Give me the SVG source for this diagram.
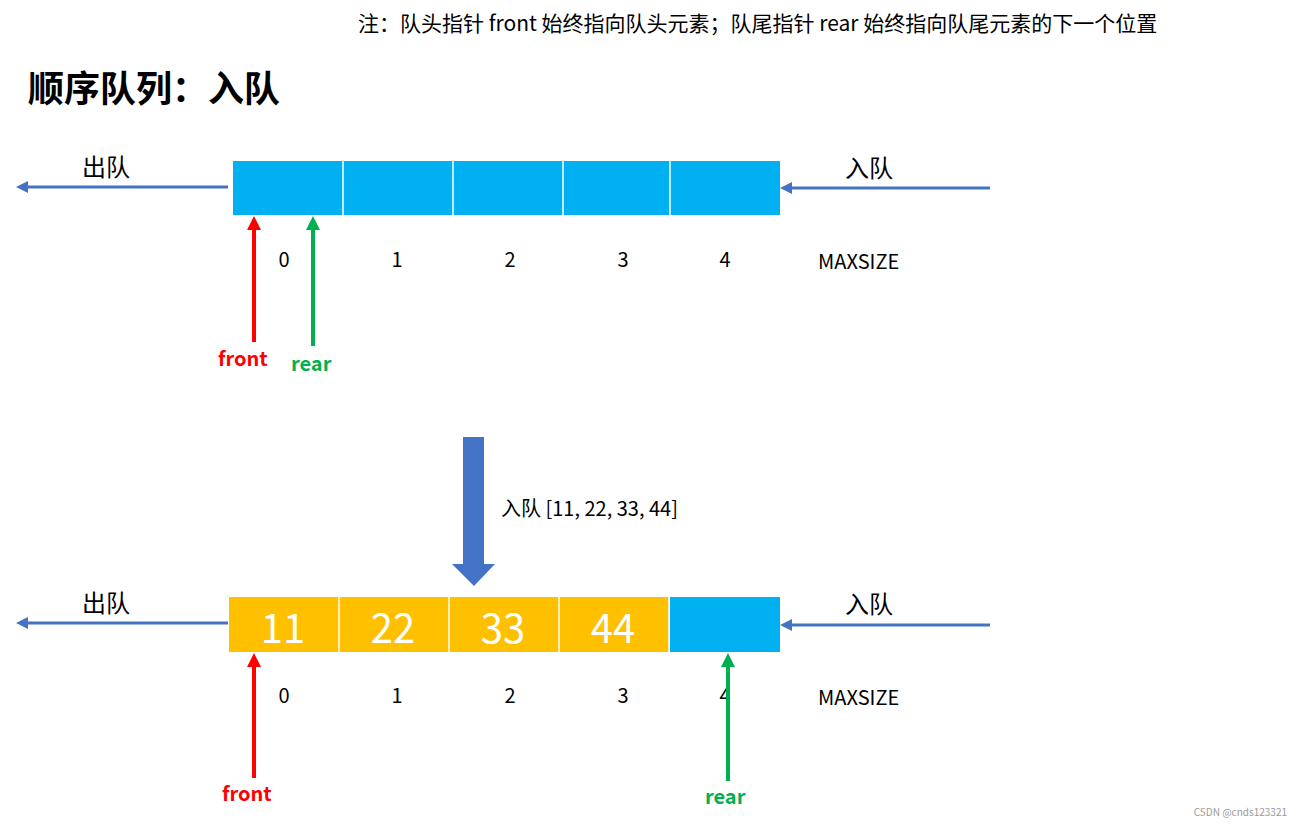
<svg xmlns="http://www.w3.org/2000/svg" width="1302" height="825" viewBox="0 0 1302 825">
<defs>
<style>
text{font-family:"Microsoft YaHei","Noto Sans CJK SC","Liberation Sans",sans-serif;fill:#000}
.cb{fill:#00b0f0}.cy{fill:#ffc000}
.sep{stroke:#fff;stroke-width:1.5}
.idx{font-size:20px;text-anchor:middle}
.lab{font-size:24px}
.num{font-size:40px;fill:#fff;text-anchor:middle}
.blue{stroke:#4472c4;stroke-width:3;fill:none}
.red{stroke:#ff0000;stroke-width:4;fill:none}
.green{stroke:#00b050;stroke-width:4;fill:none}
</style>
<marker id="ab" markerWidth="4" markerHeight="4" refX="2" refY="2" orient="auto"><path d="M0,0L4,2L0,4Z" fill="#4472c4"/></marker>
<marker id="ar" markerWidth="3.5" markerHeight="3.5" refX="2" refY="1.75" orient="auto"><path d="M0,0L3.5,1.75L0,3.5Z" fill="#ff0000"/></marker>
<marker id="ag" markerWidth="3.5" markerHeight="3.5" refX="2" refY="1.75" orient="auto"><path d="M0,0L3.5,1.75L0,3.5Z" fill="#00b050"/></marker>
</defs>
<rect width="1302" height="825" fill="#fff"/>
<text x="358" y="31" font-size="21">注：队头指针 front 始终指向队头元素；队尾指针 rear 始终指向队尾元素的下一个位置</text>
<text x="28" y="102" font-size="36" font-weight="bold">顺序队列：入队</text>
<g id="queue1">
<rect class="cb" x="233" y="161" width="547" height="54"/>
<line class="sep" x1="343" y1="161" x2="343" y2="215"/><line class="sep" x1="453" y1="161" x2="453" y2="215"/><line class="sep" x1="563" y1="161" x2="563" y2="215"/><line class="sep" x1="670" y1="161" x2="670" y2="215"/>
</g>
<g id="index1">
<text class="idx" x="284" y="267">0</text><text class="idx" x="397" y="267">1</text><text class="idx" x="510" y="267">2</text><text class="idx" x="623" y="267">3</text><text class="idx" x="725" y="267">4</text>
<text x="818" y="269" font-size="20">MAXSIZE</text>
</g>
<g id="queue2">
<rect class="cy" x="229" y="597" width="440" height="55"/>
<rect class="cb" x="670" y="597" width="110" height="55"/>
<line class="sep" x1="339" y1="597" x2="339" y2="652"/><line class="sep" x1="449" y1="597" x2="449" y2="652"/><line class="sep" x1="559" y1="597" x2="559" y2="652"/><line class="sep" x1="669" y1="597" x2="669" y2="652"/>
<text class="num" x="283" y="643">11</text><text class="num" x="393" y="643">22</text><text class="num" x="503" y="643">33</text><text class="num" x="613" y="643">44</text>
</g>
<g id="index2">
<text class="idx" x="284" y="703">0</text><text class="idx" x="397" y="703">1</text><text class="idx" x="510" y="703">2</text><text class="idx" x="623" y="703">3</text><text class="idx" x="725" y="703">4</text>
<text x="818" y="705" font-size="20">MAXSIZE</text>
</g>
<g id="labels">
<text class="lab" x="82" y="176">出队</text><text class="lab" x="845" y="177">入队</text>
<text class="lab" x="82" y="612">出队</text><text class="lab" x="845" y="613">入队</text>
<text x="218" y="366" font-size="20" font-weight="bold" fill="#ff0000" style="fill:#ff0000">front</text>
<text x="291" y="371" font-size="20" font-weight="bold" style="fill:#00b050">rear</text>
<text x="222" y="801" font-size="20" font-weight="bold" style="fill:#ff0000">front</text>
<text x="705" y="804" font-size="20" font-weight="bold" style="fill:#00b050">rear</text>
<text x="501" y="516" font-size="20">入队 [11, 22, 33, 44]</text>
<text x="1287" y="816" font-size="10" text-anchor="end" style="fill:#999">CSDN @cnds123321</text>
</g>
<g id="connectors">
<line class="blue" x1="228" y1="187" x2="22" y2="187" marker-end="url(#ab)"/>
<line class="blue" x1="990" y1="188" x2="786" y2="188" marker-end="url(#ab)"/>
<line class="blue" x1="228" y1="623" x2="22" y2="623" marker-end="url(#ab)"/>
<line class="blue" x1="990" y1="625" x2="786" y2="625" marker-end="url(#ab)"/>
<line class="red" x1="254" y1="342" x2="254" y2="222" marker-end="url(#ar)"/>
<line class="green" x1="313" y1="346" x2="313" y2="222" marker-end="url(#ag)"/>
<line class="red" x1="254" y1="778" x2="254" y2="659" marker-end="url(#ar)"/>
<line class="green" x1="728" y1="781" x2="728" y2="659" marker-end="url(#ag)"/>
<path d="M463,437H484V564H495L474,586L452,564H463Z" fill="#4472c4"/>
</g>
</svg>
